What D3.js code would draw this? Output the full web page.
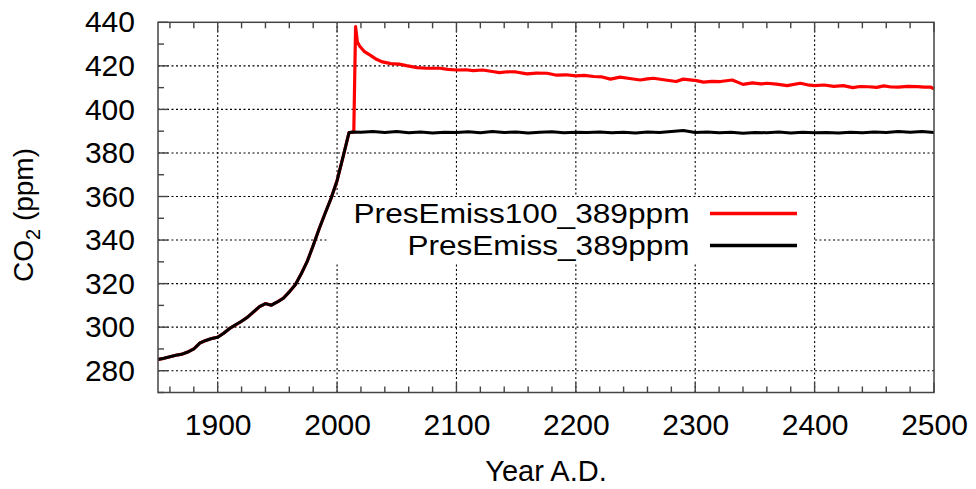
<!DOCTYPE html>
<html lang="en">
<head>
<meta charset="UTF-8">
<title>CO2 scenarios</title>
<script src="https://d3js.org/d3.v7.min.js"></script>
<style>
  body { margin: 0; background: #fff; font-family: "Liberation Sans", Arial, sans-serif; }
  .axis text { font-size: 30px; fill: #000; font-family: "Liberation Sans", Arial, sans-serif; }
  .axis path { display: none; }
  .grid line { stroke: #000; stroke-width: 1.1; stroke-dasharray: 2,2.5; }
  .minor line { stroke: #444; stroke-width: 1.4; }
</style>
</head>
<body>
<div id="chart"></div>
<script>
// historical part, shared by both runs
const histYears = [1850, 1855, 1860, 1865, 1870, 1875, 1880, 1885, 1890, 1895, 1900, 1905, 1910, 1915,
  1920, 1925, 1930, 1935, 1940, 1945, 1950, 1955, 1960, 1965, 1970, 1975, 1980, 1985, 1990, 1995,
  2000, 2005, 2010];
const histCO2 = [285.2, 285.7, 286.4, 287.1, 287.6, 288.6, 290.0, 292.7, 293.9, 294.8, 295.4, 297.2,
  299.4, 301.1, 302.7, 304.6, 307.0, 309.4, 310.8, 310.1, 311.6, 313.3, 316.2, 319.5, 324.5, 330.2,
  337.5, 345.2, 352.3, 359.2, 367.3, 378.2, 389.3];

// PresEmiss100_389ppm after 2010
const redYears = [2014, 2015.5, 2017, 2019, 2023, 2028, 2033, 2038, 2045, 2052, 2058, 2067, 2075, 2086,
  2093, 2100, 2108, 2114, 2122, 2130, 2136, 2143, 2150, 2159, 2167, 2176, 2184, 2192, 2200, 2207, 2215,
  2222, 2229, 2237, 2245, 2254, 2260, 2265, 2275, 2284, 2290, 2301, 2307, 2314, 2321, 2331, 2340, 2348,
  2355, 2360, 2368, 2377, 2388, 2394, 2400, 2408, 2416, 2424, 2432, 2438, 2445, 2452, 2458, 2464, 2470,
  2478, 2486, 2492, 2497, 2500];
const redCO2 = [389.6, 438.0, 431.0, 429.0, 426.5, 424.8, 423.0, 421.8, 421.0, 420.8, 420.1, 419.2,
  418.9, 418.9, 418.4, 418.1, 418.2, 417.8, 418.1, 417.4, 416.9, 417.3, 417.2, 416.3, 416.7, 416.6,
  415.7, 415.9, 415.4, 415.6, 415.1, 414.9, 413.9, 414.8, 414.2, 413.5, 414.0, 414.3, 413.5, 412.8,
  413.9, 413.2, 412.5, 412.9, 412.8, 413.5, 411.5, 412.2, 411.7, 412.0, 411.6, 410.9, 412.0, 411.3,
  410.9, 411.2, 410.6, 410.9, 410.0, 410.5, 410.4, 410.1, 410.8, 410.3, 410.2, 410.6, 410.5, 410.2,
  410.3, 409.4];

// PresEmiss_389ppm after 2010
const blackYears = [2013, 2020, 2030, 2040, 2050, 2060, 2070, 2080, 2090, 2100, 2110, 2120, 2130, 2140,
  2150, 2160, 2170, 2180, 2190, 2200, 2210, 2220, 2230, 2240, 2250, 2260, 2270, 2280, 2290, 2300, 2310,
  2320, 2330, 2340, 2350, 2360, 2370, 2380, 2390, 2400, 2410, 2420, 2430, 2440, 2450, 2460, 2470, 2480,
  2490, 2500];
const blackCO2 = [389.6, 389.5, 389.8, 389.4, 389.9, 389.3, 389.6, 389.2, 389.5, 389.4, 389.7, 389.3,
  389.8, 389.4, 389.6, 389.2, 389.5, 389.7, 389.3, 389.5, 389.4, 389.6, 389.3, 389.5, 389.2, 389.6,
  389.4, 389.8, 390.3, 389.4, 389.6, 389.3, 389.5, 389.1, 389.4, 389.3, 389.6, 389.2, 389.5, 389.3,
  389.4, 389.2, 389.5, 389.3, 389.6, 389.4, 389.8, 389.5, 389.9, 389.4];

const xTicks = [1900, 2000, 2100, 2200, 2300, 2400, 2500];
const yTicks = [280, 300, 320, 340, 360, 380, 400, 420, 440];
const seriesNames = ["PresEmiss100_389ppm", "PresEmiss_389ppm"];
const seriesColors = ["#ff0000", "#000000"];

const W = 976, H = 489;
const pl = 158, pr = 934, pt = 22.3, pb = 392.5;

const svg = d3.select("#chart").append("svg")
  .attr("width", W).attr("height", H);

const x = d3.scaleLinear().domain([1850, 2500]).range([pl, pr]);
const y = d3.scaleLinear().domain([270, 440]).range([pb, pt]);

// grid
const grid = svg.append("g").attr("class", "grid");
grid.selectAll("line.gx").data(xTicks.filter(d => d < 2500)).enter().append("line")
  .attr("x1", d => x(d)).attr("x2", d => x(d)).attr("y1", pb).attr("y2", pt);
grid.selectAll("line.gy").data(yTicks.filter(d => d < 440)).enter().append("line")
  .attr("x1", pl).attr("x2", pr).attr("y1", d => y(d)).attr("y2", d => y(d));

// ticks, inward
const ticks = svg.append("g").attr("class", "minor");
const xMinor = d3.range(1860, 2500, 20).filter(d => d % 100 !== 0);
const yMinor = d3.range(270, 440, 10).filter(d => d % 20 !== 0);
xMinor.forEach(d => {
  ticks.append("line").attr("x1", x(d)).attr("x2", x(d)).attr("y1", pb).attr("y2", pb - 6);
  ticks.append("line").attr("x1", x(d)).attr("x2", x(d)).attr("y1", pt).attr("y2", pt + 6);
});
yMinor.forEach(d => {
  ticks.append("line").attr("x1", pl).attr("x2", pl + 6).attr("y1", y(d)).attr("y2", y(d));
});
xTicks.forEach(d => {
  ticks.append("line").attr("x1", x(d)).attr("x2", x(d)).attr("y1", pb).attr("y2", pb - 10);
  ticks.append("line").attr("x1", x(d)).attr("x2", x(d)).attr("y1", pt).attr("y2", pt + 10);
});
yTicks.forEach(d => {
  ticks.append("line").attr("x1", pl).attr("x2", pl + 10).attr("y1", y(d)).attr("y2", y(d));
});

// legend box hides the grid behind it
svg.append("rect")
  .attr("x", 328).attr("y", 197).attr("width", 486).attr("height", 65)
  .attr("fill", "#fff");

// lines
const line = d3.line().x(d => x(d[0])).y(d => y(d[1]));
const hist = histYears.map((yr, i) => [yr, histCO2[i]]);
const redData = hist.concat(redYears.map((yr, i) => [yr, redCO2[i]]));
const blackData = hist.concat(blackYears.map((yr, i) => [yr, blackCO2[i]]));

svg.append("path").datum(redData)
  .attr("d", line).attr("fill", "none")
  .attr("stroke", seriesColors[0]).attr("stroke-width", 3.2).attr("stroke-linejoin", "round");
svg.append("path").datum(blackData)
  .attr("d", line).attr("fill", "none")
  .attr("stroke", seriesColors[1]).attr("stroke-width", 3).attr("stroke-linejoin", "round");

// frame
svg.append("rect")
  .attr("x", pl).attr("y", pt).attr("width", pr - pl).attr("height", pb - pt)
  .attr("fill", "none").attr("stroke", "#444").attr("stroke-width", 1.5);

// axes labels
svg.append("g").attr("class", "axis")
  .attr("transform", `translate(0,${pb})`)
  .call(d3.axisBottom(x).tickValues(xTicks).tickSize(0).tickPadding(21).tickFormat(d3.format("d")));
svg.append("g").attr("class", "axis")
  .attr("transform", `translate(${pl},0)`)
  .call(d3.axisLeft(y).tickValues(yTicks).tickSize(0).tickPadding(23));

svg.append("text")
  .attr("x", (pl + pr) / 2).attr("y", 481)
  .attr("text-anchor", "middle").style("font-size", "29px")
  .text("Year A.D.");

const yl = svg.append("text")
  .attr("transform", "translate(33,215) rotate(-90)")
  .attr("text-anchor", "middle").style("font-size", "28px");
yl.append("tspan").text("CO");
yl.append("tspan").attr("dy", 7).style("font-size", "20px").text("2");
yl.append("tspan").attr("dy", -7).text(" (ppm)");

// legend
const legY = [213.4, 245.5];
const legLen = [336, 282];
seriesNames.forEach((name, i) => {
  svg.append("text")
    .attr("x", 689.5).attr("y", legY[i] + 9.5)
    .attr("text-anchor", "end").style("font-size", "27px")
    .attr("textLength", legLen[i]).attr("lengthAdjust", "spacingAndGlyphs")
    .text(name);
  svg.append("line")
    .attr("x1", 710).attr("x2", 797).attr("y1", legY[i]).attr("y2", legY[i])
    .attr("stroke", seriesColors[i]).attr("stroke-width", 3.5);
});
</script>
</body>
</html>
